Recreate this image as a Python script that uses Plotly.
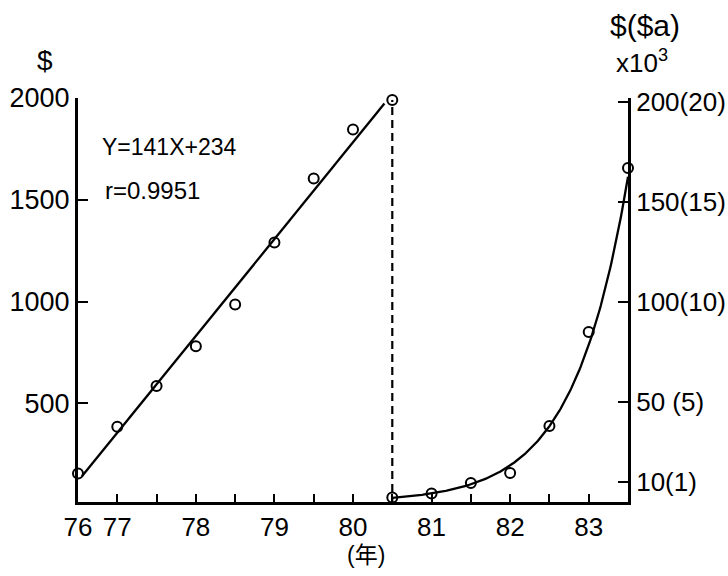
import numpy as np
import plotly.graph_objects as go

# ---- data ----
x_left = [76.5, 77.0, 77.5, 78.0, 78.5, 79.0, 79.5, 80.0, 80.5]
y_left = [155, 385, 585, 780, 985, 1290, 1605, 1845, 1990]

x_right = [80.5, 81.0, 81.5, 82.0, 82.5, 83.0, 83.5]
y_right = [2.2, 4.2, 9.5, 14.5, 38, 85, 167]

x_tickvals = [76.5, 77, 78, 79, 80, 81, 82, 83]
x_ticktext = ["76", "77", "78", "79", "80", "81", "82", "83"]
x_minor = [77.5, 78.5, 79.5, 80.5, 81.5, 82.5]

yl_tickvals = [500, 1000, 1500, 2000]
yr_tickvals = [10, 50, 100, 150, 200]
yr_ticktext = ["10(1)", "50 (5)", "100(10)", "150(15)", "200(20)"]

FONT = "Liberation Sans, Arial, sans-serif"
CJK = "Liberation Sans, Noto Sans CJK SC, sans-serif"

# regression fits
b1, b0 = np.polyfit(x_left, y_left, 1)
xl_fit = np.linspace(76.55, 80.4, 50)
yl_fit = b1 * xl_fit + b0

c1, c0 = np.polyfit(x_right, np.log(y_right), 1)
xr_fit = np.linspace(x_right[0], x_right[-1], 200)
yr_fit = np.exp(c1 * xr_fit + c0)

fig = go.Figure()

# dashed divider
fig.add_trace(go.Scatter(x=[x_left[-1], x_left[-1]], y=[0, y_left[-1]],
                         mode="lines", line=dict(color="black", width=2.2, dash="8px,5px"),
                         yaxis="y", showlegend=False, hoverinfo="skip"))
# left fit line
fig.add_trace(go.Scatter(x=xl_fit, y=yl_fit, mode="lines",
                         line=dict(color="black", width=2.3), showlegend=False))
# left points
fig.add_trace(go.Scatter(x=x_left, y=y_left, mode="markers",
                         marker=dict(symbol="circle-open", size=10, color="black",
                                     line=dict(width=2, color="black")),
                         cliponaxis=False, showlegend=False))
# right curve
fig.add_trace(go.Scatter(x=xr_fit, y=yr_fit, mode="lines", yaxis="y2",
                         line=dict(color="black", width=2.3), showlegend=False))
# right points
fig.add_trace(go.Scatter(x=x_right, y=y_right, mode="markers", yaxis="y2",
                         marker=dict(symbol="circle-open", size=10, color="black",
                                     line=dict(width=2, color="black")),
                         cliponaxis=False, showlegend=False))

fig.update_layout(
    width=728, height=576,
    margin=dict(l=78, r=100, t=98, b=74, autoexpand=False),
    paper_bgcolor="white", plot_bgcolor="white",
    font=dict(family=FONT, size=26, color="black"),
    xaxis=dict(range=[76.5, 83.5], showline=True, linecolor="black", linewidth=3,
               tickvals=x_tickvals, ticktext=x_ticktext, ticks="inside", ticklen=8,
               tickwidth=2, tickcolor="black", showgrid=False, zeroline=False,
               tickfont=dict(size=26), automargin=False,
               minor=dict(tickvals=x_minor, ticks="inside", ticklen=8, tickwidth=2,
                          tickcolor="black", showgrid=False)),
    yaxis=dict(range=[15, 2000], showline=True, linecolor="black", linewidth=3,
               tickvals=yl_tickvals, ticks="inside", ticklen=10, tickwidth=2,
               tickcolor="black", showgrid=False, zeroline=False,
               tickfont=dict(size=27), automargin=False),
    yaxis2=dict(range=[0, 202], overlaying="y", side="right", showline=True,
                linecolor="black", linewidth=3, tickvals=yr_tickvals,
                ticktext=yr_ticktext, ticks="inside", ticklen=10, tickwidth=2,
                tickcolor="black", showgrid=False, zeroline=False,
                tickfont=dict(size=26), automargin=False),
    showlegend=False,
)

ann = [
    dict(text="$", x=-0.06, y=1.094, size=28),
    dict(text="$($a)", x=1.03, y=1.18, size=30),
    dict(text="x10<sup>3</sup>", x=1.025, y=1.09, size=26),
    dict(text="Y=141X+234", x=0.04, y=0.879, size=23, xanchor="left"),
    dict(text="r=0.9951", x=0.045, y=0.772, size=24, xanchor="left"),
    dict(text="(年)", x=0.524, y=-0.131, size=23),
]
for a in ann:
    fig.add_annotation(text=a["text"], x=a["x"], y=a["y"], xref="paper", yref="paper",
                       xanchor=a.get("xanchor", "center"), yanchor="middle",
                       showarrow=False, font=dict(family=CJK, size=a["size"], color="black"))

fig.write_html("out.html")
